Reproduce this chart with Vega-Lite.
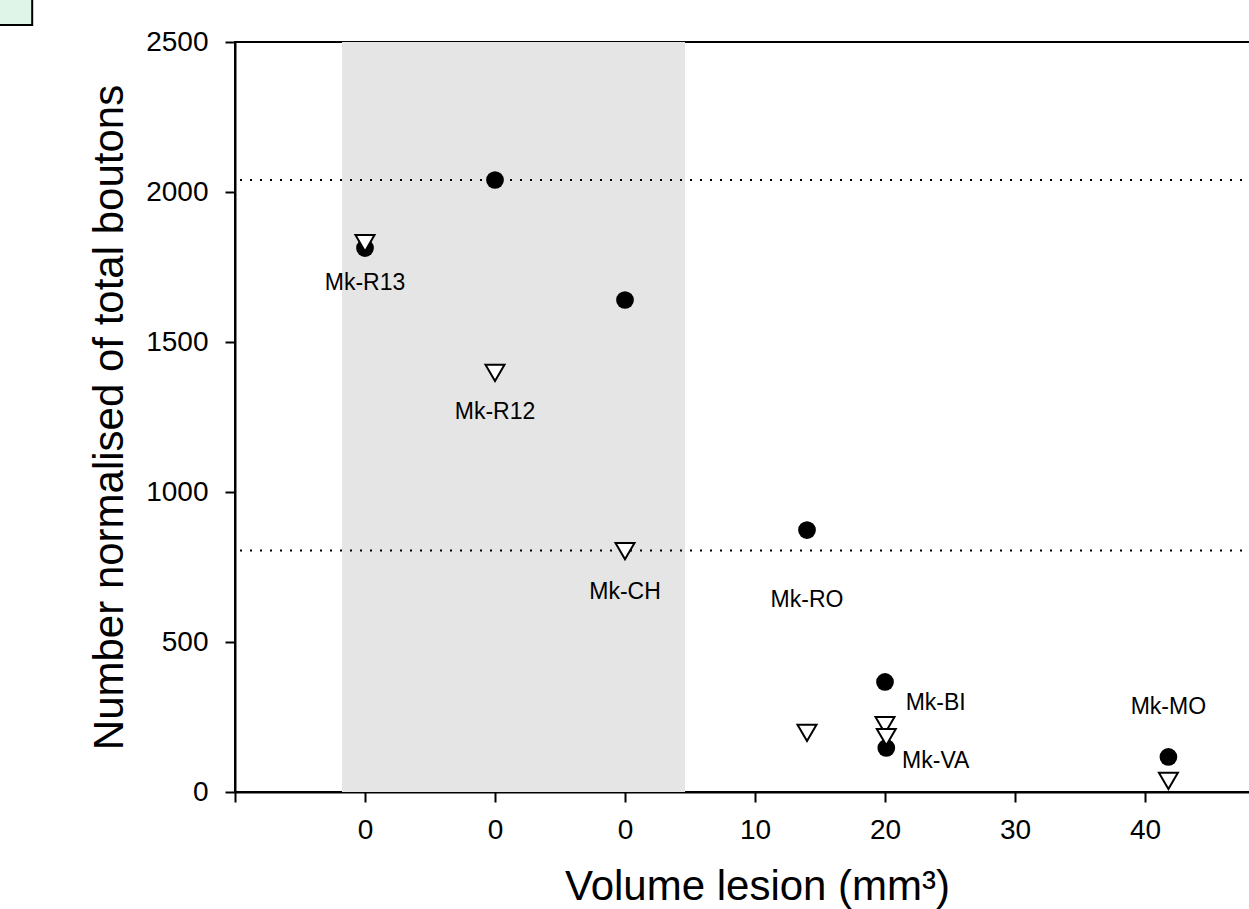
{
  "$schema": "https://vega.github.io/schema/vega-lite/v6.json",
  "autosize": "none",
  "padding": {"left": 235, "top": 42, "right": 0, "bottom": 117},
  "width": 1027,
  "height": 750,
  "background": "white",
  "config": {
    "font": "Liberation Sans",
    "view": {"stroke": "black", "strokeWidth": 2},
    "axis": {
      "domainColor": "black",
      "domainWidth": 2,
      "tickColor": "black",
      "tickWidth": 2,
      "tickSize": 10,
      "grid": false,
      "labelFont": "Liberation Sans",
      "labelFontSize": 28,
      "labelColor": "black",
      "titleFont": "Liberation Sans",
      "titleFontSize": 42,
      "titleFontWeight": "normal",
      "titleColor": "black"
    }
  },
  "datasets": {
    "band": [{"x0": -21.77, "x1": 4.62}],
    "corner": [{"x0": -48.5, "x1": -45.6, "y0": 2557, "y1": 2660}],
    "refs": [{"y": 2040}, {"y": 805}],
    "circles": [
      {"x": -20, "y": 1813},
      {"x": -10, "y": 2040},
      {"x": 0, "y": 1640},
      {"x": 14, "y": 873},
      {"x": 20, "y": 367},
      {"x": 20.1, "y": 147},
      {"x": 41.8, "y": 117}
    ],
    "triangles": [
      {"x": -20, "y": 1829},
      {"x": -10, "y": 1397},
      {"x": 0, "y": 803},
      {"x": 14, "y": 197},
      {"x": 20, "y": 223},
      {"x": 20.1, "y": 183},
      {"x": 41.8, "y": 37}
    ],
    "labels": [
      {"x": -20, "y": 1697, "label": "Mk-R13"},
      {"x": -10, "y": 1267, "label": "Mk-R12"},
      {"x": 0, "y": 668, "label": "Mk-CH"},
      {"x": 14, "y": 640, "label": "Mk-RO"},
      {"x": 23.9, "y": 297, "label": "Mk-BI"},
      {"x": 23.9, "y": 103, "label": "Mk-VA"},
      {"x": 41.8, "y": 283, "label": "Mk-MO"}
    ]
  },
  "layer": [
    {
      "data": {"name": "band"},
      "mark": {"type": "rect", "color": "#e5e5e5"},
      "encoding": {
        "x": {
          "field": "x0", "type": "quantitative",
          "scale": {"domain": [-30, 49], "nice": false, "zero": false},
          "axis": {
            "values": [-30, -20, -10, 0, 10, 20, 30, 40],
            "labelExpr": "datum.value < -25 ? '' : (datum.value <= 0 ? '0' : datum.label)",
            "labelPadding": 14,
            "title": "Volume lesion (mm³)",
            "titlePadding": 22,
            "titleX": 522
          }
        },
        "x2": {"field": "x1"},
        "y": {"datum": 0, "type": "quantitative",
          "scale": {"domain": [0, 2500], "nice": false},
          "axis": {
            "values": [0, 500, 1000, 1500, 2000, 2500],
            "format": "d",
            "labelPadding": 17,
            "title": "Number normalised of total boutons",
            "titlePadding": 14
          }
        },
        "y2": {"datum": 2500}
      }
    },
    {
      "data": {"name": "corner"},
      "mark": {"type": "rect", "fill": "#dff5e7", "stroke": "black", "strokeWidth": 2, "clip": false},
      "encoding": {
        "x": {"field": "x0", "type": "quantitative"},
        "x2": {"field": "x1"},
        "y": {"field": "y0", "type": "quantitative"},
        "y2": {"field": "y1"}
      }
    },
    {
      "data": {"name": "refs"},
      "mark": {"type": "rule", "color": "black", "strokeWidth": 2, "strokeDash": [2, 8]},
      "encoding": {"y": {"field": "y", "type": "quantitative"}}
    },
    {
      "data": {"name": "circles"},
      "mark": {"type": "point", "shape": "circle", "filled": true, "color": "black", "opacity": 1, "size": 314},
      "encoding": {
        "x": {"field": "x", "type": "quantitative"},
        "y": {"field": "y", "type": "quantitative"}
      }
    },
    {
      "data": {"name": "triangles"},
      "mark": {"type": "point", "shape": "triangle-down", "fill": "white", "fillOpacity": 1, "stroke": "black", "strokeWidth": 2, "opacity": 1, "size": 360},
      "encoding": {
        "x": {"field": "x", "type": "quantitative"},
        "y": {"field": "y", "type": "quantitative"}
      }
    },
    {
      "data": {"name": "labels"},
      "mark": {"type": "text", "font": "Liberation Sans", "fontSize": 23, "color": "black", "align": "center", "baseline": "middle"},
      "encoding": {
        "x": {"field": "x", "type": "quantitative"},
        "y": {"field": "y", "type": "quantitative"},
        "text": {"field": "label"}
      }
    }
  ]
}
